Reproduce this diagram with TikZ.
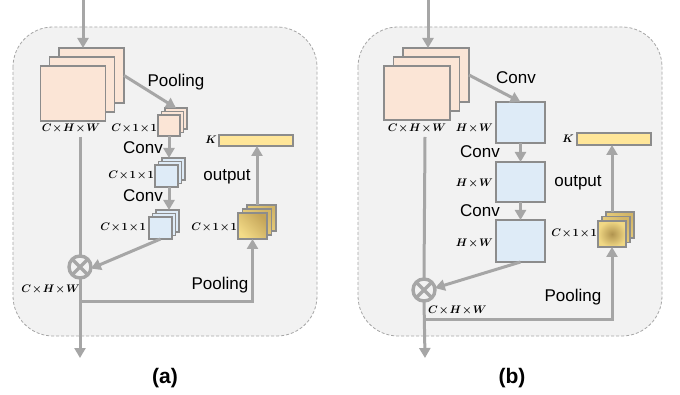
\documentclass[tikz,border=0pt]{standalone}
\usepackage{amsmath,bm}
\usepackage{fontspec}
\setmainfont{Liberation Sans}
\usetikzlibrary{arrows.meta,calc}
\definecolor{arrgray}{HTML}{A6A6A6}
\definecolor{boxgray}{HTML}{8C8C8C}
\definecolor{peachc}{HTML}{FBE5D6}
\definecolor{bluec}{HTML}{DEEBF7}
\definecolor{kyel}{HTML}{FFE699}
\definecolor{ydark}{HTML}{C4A458}
\definecolor{ylight}{HTML}{F4DC88}
\definecolor{panelc}{HTML}{F2F2F2}
\newcommand{\tightmath}{\medmuskip=1.5mu\relax}
\tikzset{
  panel/.style={draw=arrgray, dashed, dash pattern=on 3pt off 2pt, fill=panelc, rounded corners=40pt, line width=0.8pt},
  ln/.style={draw=arrgray, line width=3pt},
  arr/.style={ln, -{Triangle[length=10pt,width=11pt]}},
  boxb/.style={draw=boxgray, line width=1.3pt, inner sep=0pt, outer sep=0pt},
  peachbox/.style={boxb, fill=peachc},
  bluebox/.style={boxb, fill=bluec},
  ylin/.style={boxb, top color=ydark, bottom color=ylight, shading angle=-45},
  ylinb/.style={boxb, top color=ydark!70!ylight, bottom color=ylight, shading angle=-45},
  yrad/.style={boxb, inner color=ydark!90!black, outer color=ylight!92!ydark},
  kbar/.style={boxb, fill=kyel},
  otim/.style={circle, draw=arrgray, line width=3.4pt, fill=panelc, minimum size=22pt, inner sep=0pt, outer sep=0pt,
    path picture={\draw[arrgray, line width=3.2pt] (path picture bounding box.north west) -- (path picture bounding box.south east)
      (path picture bounding box.north east) -- (path picture bounding box.south west);}},
  lbl/.style={font=\fontsize{17}{19}\selectfont, inner sep=0pt},
  ttl/.style={font=\fontsize{21}{23}\selectfont\bfseries, inner sep=0pt},
  mlbl/.style={font=\fontsize{10.5}{12}\selectfont\tightmath, inner sep=0pt},
}
\begin{document}
\begin{tikzpicture}[x=1pt,y=-1pt]
\useasboundingbox (0,0) rectangle (680,395);
\fill[white] (0,0) rectangle (680,395);
% ---------- panel (a)
\draw[panel] (13,27) rectangle (317,336);
\node[peachbox, minimum width=65pt, minimum height=55pt] (pa3) at (91.5,75.5) {};
\node[peachbox, minimum width=65pt, minimum height=55pt] (pa2) at (82.2,84.5) {};
\node[peachbox, minimum width=65pt, minimum height=55pt] (pa1) at (73,93.5) {};
\node[mlbl] (la1) at (71,128) {$\bm{C\times H\times W}$};
\node[peachbox, minimum width=22pt, minimum height=21pt] (sa3) at (176,118.5) {};
\node[peachbox, minimum width=22pt, minimum height=21pt] (sa2) at (172.5,122) {};
\node[peachbox, minimum width=22pt, minimum height=21pt] (sa1) at (169,125.5) {};
\node[mlbl, anchor=east] (la2) at (157,128) {$\bm{C\times 1\times 1}$};
\node[bluebox, minimum width=23pt, minimum height=22pt] (sb3) at (173.5,169) {};
\node[bluebox, minimum width=23pt, minimum height=22pt] (sb2) at (170,172.5) {};
\node[bluebox, minimum width=23pt, minimum height=22pt] (sb1) at (166.5,176) {};
\node[mlbl, anchor=east] (la3) at (154,175) {$\bm{C\times 1\times 1}$};
\node[bluebox, minimum width=23pt, minimum height=22pt] (sc3) at (167.5,221) {};
\node[bluebox, minimum width=23pt, minimum height=22pt] (sc2) at (164,224.5) {};
\node[bluebox, minimum width=23pt, minimum height=22pt] (sc1) at (160.5,228) {};
\node[mlbl, anchor=east] (la4) at (146,227) {$\bm{C\times 1\times 1}$};
\node[ylinb, minimum width=29pt, minimum height=26pt] (ya3) at (261.5,218) {};
\node[ylinb, minimum width=29pt, minimum height=26pt] (ya2) at (257,222) {};
\node[ylin, minimum width=29pt, minimum height=26pt] (ya1) at (252.5,226) {};
\node[mlbl, anchor=east] (la5) at (237,227) {$\bm{C\times 1\times 1}$};
\node[kbar, minimum width=74pt, minimum height=11pt] (ka) at (256,140.5) {};
\node[mlbl] (lka) at (211,140) {$\bm{K}$};
\node[otim] (ota) at (80,267) {};
\node[mlbl, anchor=east] (la6) at (80,289) {$\bm{C\times H\times W}$};
\node[lbl] (tpa) at (176,82) {Pooling};
\node[lbl] (tca1) at (143,148) {Conv};
\node[lbl] (tca2) at (143,196) {Conv};
\node[lbl] (toa) at (227,177) {output};
\node[lbl] (tpa2) at (220,285) {Pooling};
\node[ttl] (ta) at (165,378) {(a)};
\coordinate (ina) at (83,0);
\coordinate (sta) at (80,137);
\coordinate (outa) at (80,358);
\coordinate (bra) at (80,302);
\draw[arr] (ina) -- (ina |- pa3.north);
\draw[arr] (pa3.east) -- (sa3.north);
\draw[arr] (sa1.south) -- (sa1.south |- sb3.north);
\draw[arr] (sb1.south -| sa1.south) -- (sa1.south |- sc3.north);
\draw[arr] (sc1.south) -- (ota.-8);
\draw[ln] (sta) -- (ota.north);
\draw[arr] (ota.south) -- (outa);
\draw[arr] (bra) -| (ya1.south);
\draw[arr] (ya2.north |- ya3.north) -- (ya2.north |- ka.south);
% ---------- panel (b)
\draw[panel] (358,27) rectangle (662,336);
\node[peachbox, minimum width=66pt, minimum height=54pt] (pb3) at (436,75) {};
\node[peachbox, minimum width=66pt, minimum height=54pt] (pb2) at (426.5,84) {};
\node[peachbox, minimum width=66pt, minimum height=54pt] (pb1) at (417,93) {};
\node[mlbl] (lb1) at (417,128) {$\bm{C\times H\times W}$};
\node[bluebox, minimum width=49pt, minimum height=41pt] (b1) at (520.5,122.5) {};
\node[bluebox, minimum width=49pt, minimum height=40pt] (b2) at (520.5,182) {};
\node[bluebox, minimum width=49pt, minimum height=42pt] (b3) at (520.5,241) {};
\node[mlbl, anchor=east] (lb2) at (493,128) {$\bm{H\times W}$};
\node[mlbl, anchor=east] (lb3) at (493,183) {$\bm{H\times W}$};
\node[mlbl, anchor=east] (lb4) at (493,243) {$\bm{H\times W}$};
\node[ylinb, minimum width=28pt, minimum height=26pt] (yb3) at (620,225) {};
\node[ylinb, minimum width=28pt, minimum height=26pt] (yb2) at (616,229.5) {};
\node[yrad, minimum width=28pt, minimum height=26pt] (yb1) at (612,234) {};
\node[mlbl, anchor=east] (lb5) at (597,233) {$\bm{C\times 1\times 1}$};
\node[kbar, minimum width=74pt, minimum height=12pt] (kb) at (614,139) {};
\node[mlbl] (lkb) at (568,139) {$\bm{K}$};
\node[otim] (otb) at (424,290) {};
\node[mlbl, anchor=west] (lb6) at (428,310) {$\bm{C\times H\times W}$};
\node[lbl] (tcb1) at (516,78) {Conv};
\node[lbl] (tcb2) at (480,152) {Conv};
\node[lbl] (tcb3) at (480,211) {Conv};
\node[lbl] (tob) at (578,183) {output};
\node[lbl] (tpb) at (573,297) {Pooling};
\node[ttl] (tb) at (512,378) {(b)};
\coordinate (inb) at (428,0);
\coordinate (stb) at (425,137);
\coordinate (outb) at (425,358);
\coordinate (brb) at (425,320);
\draw[arr] (inb) -- (inb |- pb3.north);
\draw[arr] (pb3.east) -- (b1.north);
\draw[arr] (b1.south) -- (b2.north);
\draw[arr] (b2.south) -- (b3.north);
\draw[arr] (b3.south) -- (otb.10);
\draw[ln] (stb) -- (otb.north);
\draw[arr] (otb.south) -- (outb);
\draw[arr] (brb) -| (yb1.south);
\draw[arr] (yb1.north |- yb3.north) -- (yb1.north |- kb.south);
\end{tikzpicture}
\end{document}
